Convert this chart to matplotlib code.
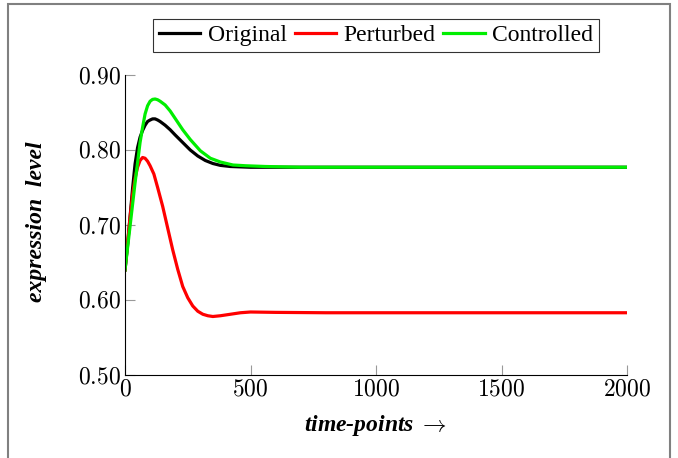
import matplotlib.pyplot as plt
from matplotlib.patches import Rectangle

# time points and expression levels
t_orig = [0, 10, 20, 30, 40, 50, 60, 70, 80, 90, 100, 110, 120, 130, 140, 160, 180,
          200, 230, 260, 290, 320, 350, 380, 420, 460, 500, 600, 800, 1000, 2000]
original = [0.640, 0.672, 0.710, 0.748, 0.781, 0.803, 0.817, 0.826, 0.833, 0.838,
            0.840, 0.8415, 0.8415, 0.840, 0.838, 0.833, 0.827, 0.820, 0.810, 0.800,
            0.792, 0.786, 0.782, 0.7795, 0.778, 0.7775, 0.777, 0.777, 0.777, 0.777,
            0.777]

t_pert = [0, 10, 20, 30, 40, 50, 60, 70, 80, 90, 100, 115, 130, 150, 170, 190, 210,
          230, 250, 270, 290, 310, 330, 350, 380, 420, 460, 500, 600, 800, 2000]
perturbed = [0.640, 0.675, 0.710, 0.740, 0.762, 0.777, 0.786, 0.790, 0.789, 0.785,
             0.779, 0.768, 0.750, 0.725, 0.696, 0.667, 0.641, 0.618, 0.603, 0.592,
             0.585, 0.581, 0.579, 0.578, 0.579, 0.581, 0.583, 0.584, 0.5835, 0.583, 0.583]

t_ctrl = [0, 20, 40, 60, 70, 80, 90, 100, 110, 120, 130, 140, 160, 180, 200, 230,
          260, 300, 340, 380, 430, 480, 560, 700, 2000]
controlled = [0.640, 0.698, 0.756, 0.810, 0.830, 0.848, 0.859, 0.865, 0.8675, 0.868,
              0.867, 0.865, 0.860, 0.852, 0.842, 0.827, 0.814, 0.799, 0.789, 0.784,
              0.780, 0.779, 0.778, 0.777, 0.777]

x_ticks = [0, 500, 1000, 1500, 2000]
y_ticks = [0.50, 0.60, 0.70, 0.80, 0.90]

plt.rcParams['mathtext.fontset'] = 'cm'
plt.rcParams['font.family'] = 'Liberation Serif'

fig = plt.figure(figsize=(6.78, 4.58), dpi=100)
ax = fig.add_axes([125 / 678, 1 - 375 / 458, 502 / 678, 300 / 458])

ax.plot(t_orig, original, color='black', lw=2.3, label='Original')
ax.plot(t_pert, perturbed, color='#ff0000', lw=2.3, label='Perturbed')
ax.plot(t_ctrl, controlled, color='#00ee00', lw=2.3, label='Controlled')

ax.set_xlim(0, 2000)
ax.set_ylim(0.5, 0.9)
ax.set_xticks(x_ticks)
ax.set_yticks(y_ticks)
ax.set_xticklabels(['$%d$' % v for v in x_ticks])
ax.set_yticklabels(['$%.2f$' % v for v in y_ticks])
ax.tick_params(direction='in', length=7, width=0.8, color='#999999',
               labelsize=17, pad=3)
ax.spines['top'].set_visible(False)
ax.spines['right'].set_visible(False)
ax.spines['left'].set_linewidth(0.8)
ax.spines['bottom'].set_linewidth(0.8)

fig.text(376 / 678, 1 - 426 / 458, r'time-points $\rightarrow$', fontsize=17,
         fontweight='bold', style='italic', ha='center', va='center')
fig.text(37 / 678, 1 - 222 / 458, 'expression  level', fontsize=17,
         fontweight='bold', style='italic', rotation=90, ha='center', va='center')

leg = fig.legend(loc='center', bbox_to_anchor=(376 / 678, 1 - 35.5 / 458), ncol=3,
                 fontsize=17, frameon=True, fancybox=False, handlelength=1.75,
                 handletextpad=0.3, columnspacing=0.35, borderpad=0.25,
                 borderaxespad=0)
leg.get_frame().set_edgecolor('black')
leg.get_frame().set_linewidth(0.8)

fig.patches.append(Rectangle((8 / 678, -0.1), 662 / 678, 1.1 - 4 / 458,
                             transform=fig.transFigure, fill=False,
                             edgecolor='#808080', lw=1.5))

fig.savefig('out.png', dpi=100)
